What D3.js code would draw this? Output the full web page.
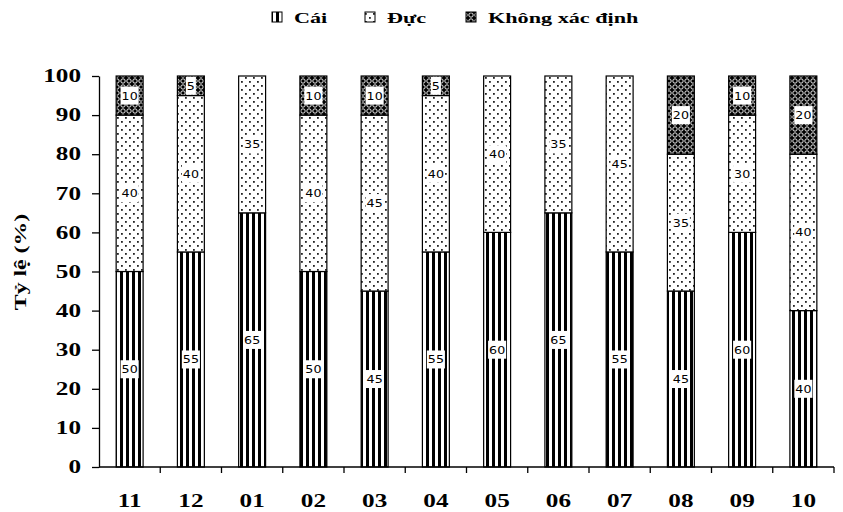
<!DOCTYPE html>
<html><head><meta charset="utf-8">
<script src="https://cdn.jsdelivr.net/npm/d3@7/dist/d3.min.js"></script>
<style>
body{margin:0;background:#fff;}
svg{display:block;}
</style></head>
<body>
<svg id="chart" width="843" height="512"></svg>
<script>
const categories = ["11","12","01","02","03","04","05","06","07","08","09","10"];
const seriesNames = ["Cái","Đực","Không xác định"];
const cai   = [50,55,65,50,45,55,60,65,55,45,60,40];
const duc   = [40,40,35,40,45,40,40,35,45,35,30,40];
const khong = [10, 5, 0,10,10, 5, 0, 0, 0,20,10,20];
const yTicks = [0,10,20,30,40,50,60,70,80,90,100];
const yTitle = "Tỷ lệ (%)";

const svg = d3.select("#chart");
const M = {left:99, right:834, top:76, bottom:467};
const SX = 1.4;
const SERIF = "Liberation Serif";

function serifText(sel, size){
  return sel.attr("font-family",null).style("font-family",SERIF).style("font-weight","bold")
    .style("font-size",size+"px").attr("fill","#000");
}

const x = d3.scaleBand().domain(categories).range([M.left, M.right]).padding(0);
const y = d3.scaleLinear().domain([0,100]).range([M.bottom, M.top]);
const barW = x.bandwidth()*0.44;

// patterns
const defs = svg.append("defs");
const p1 = defs.append("pattern").attr("id","pCai").attr("patternUnits","userSpaceOnUse")
  .attr("width",6).attr("height",6);
p1.append("rect").attr("width",6).attr("height",6).attr("fill","#000");
p1.append("rect").attr("x",3).attr("width",3).attr("height",6).attr("fill","#fff");
const p2 = defs.append("pattern").attr("id","pDuc").attr("patternUnits","userSpaceOnUse")
  .attr("width",8).attr("height",8);
p2.append("rect").attr("width",8).attr("height",8).attr("fill","#fff");
p2.append("rect").attr("x",1).attr("y",1).attr("width",1.8).attr("height",1.8).attr("fill","#222");
p2.append("rect").attr("x",5).attr("y",5).attr("width",1.8).attr("height",1.8).attr("fill","#222");
const p3 = defs.append("pattern").attr("id","pKhong").attr("patternUnits","userSpaceOnUse")
  .attr("width",6).attr("height",6);
p3.append("rect").attr("width",6).attr("height",6).attr("fill","#000");
p3.append("circle").attr("cx",3).attr("cy",3).attr("r",2.2).attr("fill","none").attr("stroke","#fff").attr("stroke-width",0.9);
const fills = ["url(#pCai)","url(#pDuc)","url(#pKhong)"];

// stacked data
const rows = categories.map((c,i)=>({cat:c, "Cái":cai[i], "Đực":duc[i], "Không xác định":khong[i]}));
const stack = d3.stack().keys(seriesNames)(rows);

const gBars = svg.append("g");
stack.forEach((layer,si)=>{
  layer.forEach(d=>{
    const v = d[1]-d[0];
    if(v<=0) return;
    const cx = x(d.data.cat)+x.bandwidth()/2;
    gBars.append("rect")
      .attr("x",cx-barW/2).attr("y",y(d[1]))
      .attr("width",barW).attr("height",y(d[0])-y(d[1]))
      .attr("fill",fills[si]).attr("stroke","#000").attr("stroke-width",1.2);
  });
});
// labels
stack.forEach((layer,si)=>{
  layer.forEach(d=>{
    const v = d[1]-d[0];
    if(v<=0) return;
    const cx = x(d.data.cat)+x.bandwidth()/2;
    const cy = y((d[0]+d[1])/2);
    const g = svg.append("g").attr("transform",`translate(${cx},${cy})`);
    const t = g.append("text").text(v)
      .attr("text-anchor","middle").attr("dy","0.36em")
      .attr("font-family","'DejaVu Sans',Verdana,sans-serif").attr("font-size",11)
      .attr("fill","#000").attr("transform","scale(1.15,1)");
    const bb = t.node().getBBox();
    const w = bb.width*1.15+2;
    g.insert("rect","text").attr("x",-w/2).attr("y",-9).attr("width",w).attr("height",18).attr("fill","#fff");
  });
});

// y axis
const yAxis = svg.append("g").attr("transform",`translate(${M.left},0)`)
  .call(d3.axisLeft(y).tickValues(yTicks).tickSize(7).tickSizeOuter(0).tickPadding(10));
yAxis.select(".domain").attr("stroke","#000").attr("stroke-width",1.3);
yAxis.selectAll(".tick line").attr("stroke","#000").attr("stroke-width",1.3);
serifText(yAxis.selectAll(".tick text"),18)
  .attr("transform",`translate(-18,0) scale(${SX},1)`).attr("x",0);

// x axis
const xAxis = svg.append("g").attr("transform",`translate(0,${M.bottom})`)
  .call(d3.axisBottom(x).tickSize(0).tickPadding(28));
xAxis.select(".domain").attr("stroke","#000").attr("stroke-width",1.3).attr("d",`M${M.left},0H${M.right}`);
serifText(xAxis.selectAll(".tick text"),18)
  .attr("transform",`translate(0,27) scale(${SX},1)`).attr("y",0).attr("dy","0.71em");
// boundary ticks
xAxis.selectAll(".bt").data(categories).enter().append("line")
  .attr("x1",d=>x(d)+x.bandwidth()).attr("x2",d=>x(d)+x.bandwidth())
  .attr("y1",0).attr("y2",6).attr("stroke","#000").attr("stroke-width",1.3);

// y title
serifText(svg.append("text").text(yTitle),17)
  .attr("transform",`translate(26,262) rotate(-90) scale(1.4,1)`)
  .attr("text-anchor","middle");

// legend
const legX = [272,365,466];
const leg = svg.append("g");
seriesNames.forEach((n,i)=>{
  leg.append("rect").attr("x",legX[i]).attr("y",12).attr("width",10).attr("height",10)
    .attr("fill",fills[i]).attr("stroke","#000").attr("stroke-width",1);
  serifText(leg.append("text").text(n),15)
    .attr("transform",`translate(${legX[i]+22},23) scale(1.48,1)`);
});
</script>
</body></html>
